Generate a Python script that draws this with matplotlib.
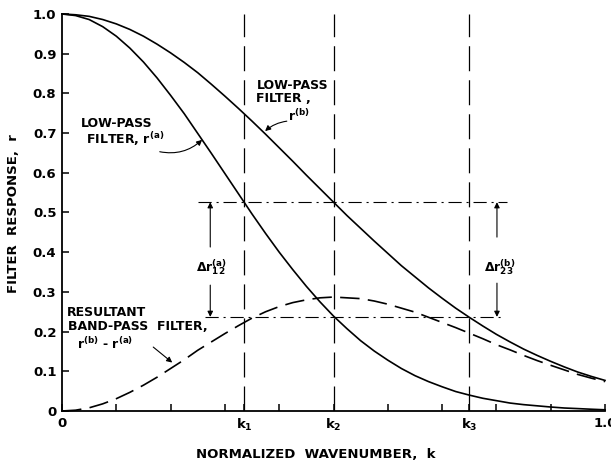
import numpy as np
import matplotlib.pyplot as plt

plt.rcParams['font.family'] = ['DejaVu Sans']
plt.rcParams['font.weight'] = 'bold'
plt.rcParams['mathtext.fontset'] = 'dejavusans'
plt.rcParams['mathtext.default'] = 'bf'
plt.rcParams['lines.scale_dashes'] = False

# values
k = [0.0, 0.025, 0.05, 0.075, 0.10, 0.125, 0.15, 0.175, 0.20, 0.225,
     0.25, 0.275, 0.30, 0.325, 0.35, 0.375, 0.40, 0.425, 0.45, 0.475,
     0.50, 0.525, 0.55, 0.575, 0.60, 0.625, 0.65, 0.675, 0.70, 0.725,
     0.75, 0.775, 0.80, 0.825, 0.85, 0.875, 0.90, 0.925, 0.95, 0.975, 1.0]
r_a = [1.0, 0.996, 0.986, 0.968, 0.944, 0.914, 0.879, 0.839, 0.795, 0.749,
       0.699, 0.649, 0.598, 0.547, 0.496, 0.447, 0.400, 0.356, 0.314, 0.275,
       0.239, 0.207, 0.177, 0.151, 0.128, 0.107, 0.089, 0.074, 0.061, 0.049,
       0.040, 0.032, 0.026, 0.020, 0.016, 0.013, 0.010, 0.0075, 0.006, 0.0044, 0.003]
r_b = [1.0, 0.998, 0.994, 0.986, 0.975, 0.961, 0.944, 0.924, 0.902, 0.878,
       0.852, 0.823, 0.793, 0.762, 0.730, 0.697, 0.663, 0.629, 0.594, 0.560,
       0.526, 0.492, 0.460, 0.428, 0.397, 0.366, 0.338, 0.310, 0.284, 0.259,
       0.236, 0.214, 0.193, 0.174, 0.156, 0.140, 0.125, 0.111, 0.098, 0.087, 0.077]
r_band = [0.0, 0.002, 0.008, 0.018, 0.031, 0.047, 0.065, 0.085, 0.107, 0.129,
          0.153, 0.174, 0.195, 0.215, 0.234, 0.250, 0.263, 0.273, 0.280, 0.285,
          0.287, 0.285, 0.283, 0.277, 0.269, 0.259, 0.249, 0.236, 0.223, 0.210,
          0.196, 0.182, 0.167, 0.154, 0.140, 0.127, 0.115, 0.1035, 0.092, 0.0826, 0.074]

k_marks = [0.335, 0.50, 0.75]
k_labels = ['k$_1$', 'k$_2$', 'k$_3$']
r_hi = 0.526
r_lo = 0.237

fig = plt.figure(figsize=(6.11, 4.69), dpi=100)
ax = fig.add_axes([0.1015, 0.1237, 0.8887, 0.8465])

ax.plot(k, r_a, color='black', lw=1.2, clip_on=False)
ax.plot(k, r_b, color='black', lw=1.2, clip_on=False)
ax.plot(k, r_band, color='black', lw=1.2, dashes=(14, 6), clip_on=False)

# vertical marks at k1, k2, k3
ax.vlines(k_marks, 0, 1.0, color='black', lw=0.9, linestyles=[(0, (18, 6.5))])

# horizontal dash-dot levels
ax.hlines([r_hi], 0.250, 0.820, color='black', lw=0.8, linestyles=[(0, (9.5, 3.5, 1.5, 3.5))])
ax.hlines([r_lo], 0.263, 0.816, color='black', lw=0.8, linestyles=[(0, (9.5, 3.5, 1.5, 3.5))])

arrow = dict(arrowstyle='-|>', color='black', lw=0.8, mutation_scale=8, shrinkA=0, shrinkB=0)

# delta r12 (a)
ax.annotate('', xy=(0.273, r_hi), xytext=(0.273, 0.413), arrowprops=arrow)
ax.annotate('', xy=(0.273, r_lo), xytext=(0.273, 0.317), arrowprops=arrow)
ax.text(0.276, 0.362, 'Δr$^{(a)}_{12}$', fontsize=9, ha='center', va='center')

# delta r23 (b)
ax.annotate('', xy=(0.801, r_hi), xytext=(0.801, 0.438), arrowprops=arrow)
ax.annotate('', xy=(0.801, r_lo), xytext=(0.801, 0.322), arrowprops=arrow)
ax.text(0.806, 0.362, 'Δr$^{(b)}_{23}$', fontsize=9, ha='center', va='center')

# labels for curves
ax.text(0.035, 0.723, 'LOW-PASS', fontsize=9, ha='left', va='center')
ax.text(0.044, 0.686, 'FILTER, r$^{(a)}$', fontsize=9, ha='left', va='center')
ax.annotate('', xy=(0.258, 0.683), xytext=(0.180, 0.653),
            arrowprops=dict(arrowstyle='-|>', color='black', lw=0.8, mutation_scale=8,
                            shrinkA=0, shrinkB=0, connectionstyle='arc3,rad=0.25'))

ax.text(0.425, 0.819, 'LOW-PASS', fontsize=9, ha='center', va='center')
ax.text(0.358, 0.786, 'FILTER ,', fontsize=9, ha='left', va='center')
ax.text(0.416, 0.742, 'r$^{(b)}$', fontsize=9, ha='left', va='center')
ax.annotate('', xy=(0.374, 0.705), xytext=(0.414, 0.730),
            arrowprops=dict(arrowstyle='-|>', color='black', lw=0.8, mutation_scale=8,
                            shrinkA=0, shrinkB=0, connectionstyle='arc3,rad=0.15'))

ax.text(0.009, 0.249, 'RESULTANT', fontsize=9, ha='left', va='center')
ax.text(0.011, 0.212, 'BAND-PASS  FILTER,', fontsize=9, ha='left', va='center')
ax.text(0.028, 0.168, 'r$^{(b)}$ - r$^{(a)}$', fontsize=9, ha='left', va='center')
ax.annotate('', xy=(0.203, 0.122), xytext=(0.168, 0.161),
            arrowprops=dict(arrowstyle='-|>', color='black', lw=0.8, mutation_scale=8,
                            shrinkA=0, shrinkB=0))

# axes
ax.set_xlim(0, 1.0)
ax.set_ylim(0, 1.0)
for side in ['top', 'right']:
    ax.spines[side].set_visible(False)
for side in ['left', 'bottom']:
    ax.spines[side].set_linewidth(1.3)

ax.set_xticks([0.0] + k_marks + [1.0])
ax.set_xticklabels(['0'] + k_labels + ['1.0'])
ax.set_xticks([0.1, 0.2, 0.3, 0.4, 0.6, 0.7, 0.8, 0.9], minor=True)
yt = np.round(np.arange(0, 1.01, 0.1), 1)
ax.set_yticks(yt)
ax.set_yticklabels(['0'] + ['%.1f' % v for v in yt[1:]])
ax.tick_params(which='both', direction='in', length=5, width=1.1, labelsize=9.5, pad=4)

fig.text(0.516, 0.030, 'NORMALIZED  WAVENUMBER,  k', fontsize=9.5, ha='center', va='center')
fig.text(0.022, 0.545, 'FILTER  RESPONSE,  r', fontsize=9.5, ha='center', va='center', rotation=90)

fig.savefig('out.png', dpi=100)
